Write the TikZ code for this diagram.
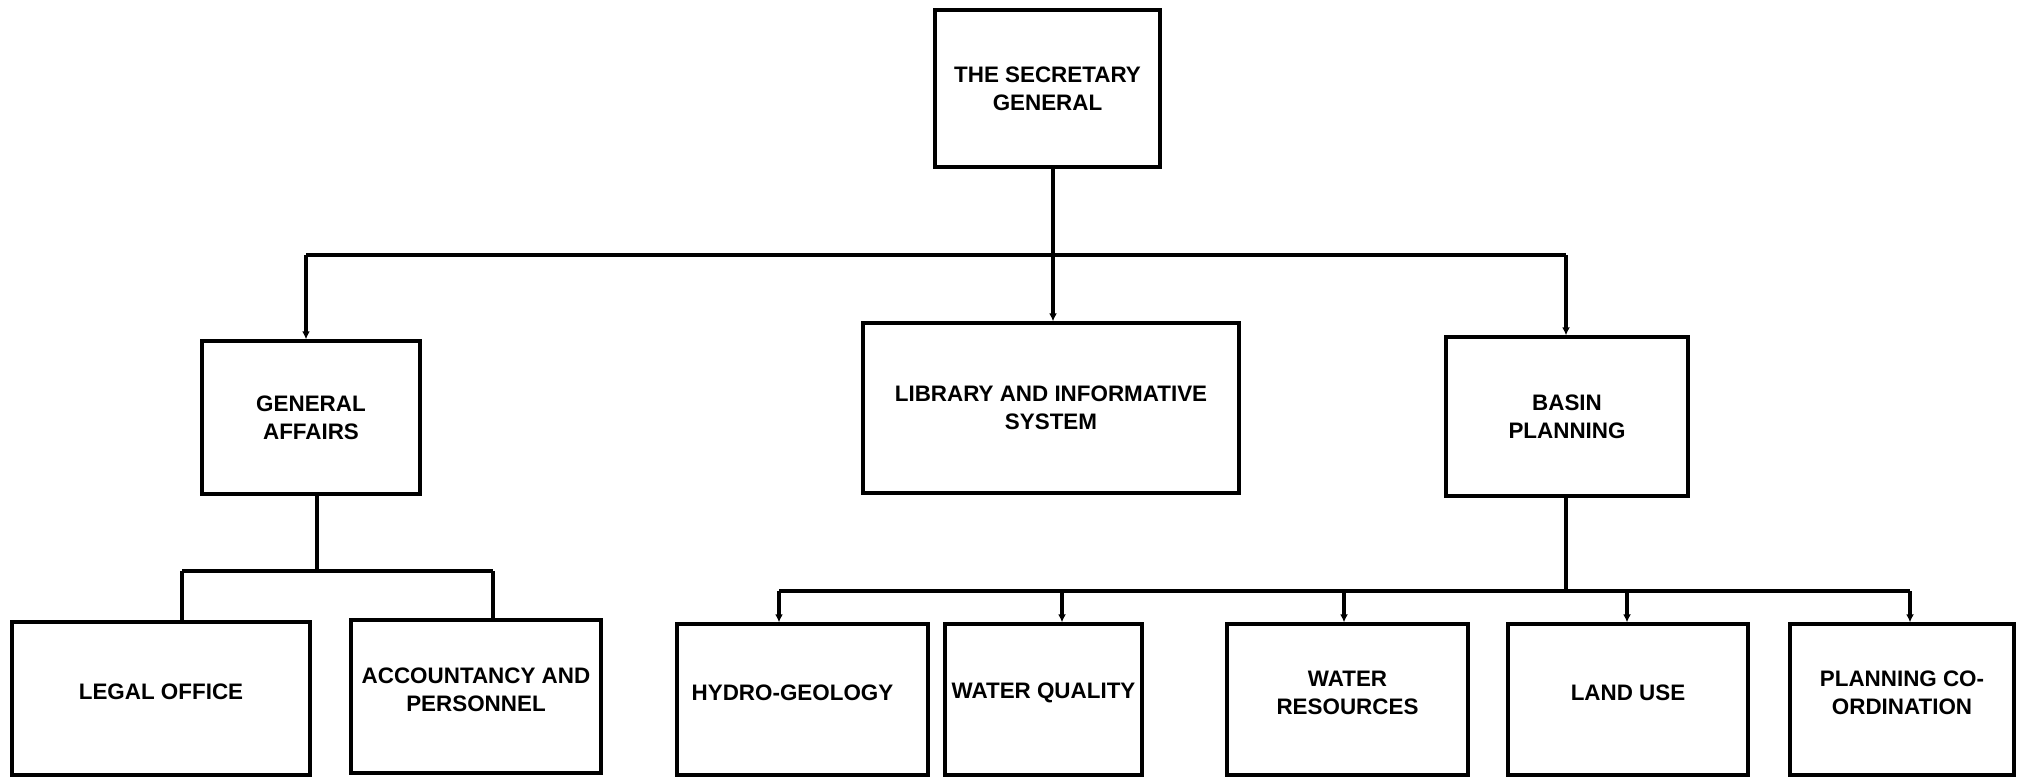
\documentclass[tikz,border=0pt]{standalone}
\usepackage{fontspec}
\setmainfont{Liberation Sans}
\usetikzlibrary{arrows.meta}
\begin{document}
\begin{tikzpicture}[x=0.5pt,y=-0.5pt,
  lbl/.style={inner sep=0pt,align=center,font=\fontsize{11.2}{14}\selectfont\bfseries},
  box/.style={lbl,draw=black,line width=1.7pt,rectangle},
  conn/.style={draw=black,line width=1.7pt},
  arr/.style={conn,-{Latex[length=4pt,width=4pt]}}]
\useasboundingbox (0,0) rectangle (2019,777);
\fill[white] (0,0) rectangle (2019,777);
% upper boxes
\node[box,minimum width=112.5pt,minimum height=78.5pt] (sec) at (1047.5,88.5) {THE SECRETARY\\GENERAL};
\node[box,minimum width=109pt,minimum height=76.5pt] (ga) at (311,417.5) {GENERAL\\AFFAIRS};
\node[box,minimum width=188pt,minimum height=85pt] (lib) at (1051,408) {LIBRARY AND INFORMATIVE\\SYSTEM};
\node[box,minimum width=121pt,minimum height=79.5pt] (basin) at (1567,416.5) {BASIN\\PLANNING};
% lower boxes (text set slightly above centre, as in the reference)
\node[box,minimum width=149pt,minimum height=76.5pt] (legal) at (161,698.5) {};
\node[box,minimum width=125pt,minimum height=76.5pt] (acc) at (476,696.5) {};
\node[box,minimum width=125.5pt,minimum height=75.5pt] (hydro) at (802.5,699.5) {};
\node[box,minimum width=98.5pt,minimum height=75.5pt] (wq) at (1043.5,699.5) {};
\node[box,minimum width=120.5pt,minimum height=75.5pt] (wr) at (1347.5,699.5) {};
\node[box,minimum width=120pt,minimum height=75.5pt] (land) at (1628,699.5) {};
\node[box,minimum width=112pt,minimum height=75.5pt] (plan) at (1902,699.5) {};
\node[lbl] (legal-t) at ([yshift=3.5pt]legal.center) {LEGAL OFFICE};
\node[lbl] (acc-t) at ([yshift=3.5pt]acc.center) {ACCOUNTANCY AND\\PERSONNEL};
\node[lbl] (hydro-t) at ([xshift=-5pt,yshift=3.5pt]hydro.center) {HYDRO-GEOLOGY};
\node[lbl] (wq-t) at ([yshift=3.5pt]wq.center) {WATER QUALITY};
\node[lbl] (wr-t) at ([yshift=3.5pt]wr.center) {WATER\\RESOURCES};
\node[lbl] (land-t) at ([yshift=3.5pt]land.center) {LAND USE};
\node[lbl] (plan-t) at ([yshift=3.5pt]plan.center) {PLANNING CO-\\ORDINATION};
% top level connectors
\coordinate (t) at (1053,255);
\coordinate (b1) at (306,255);
\coordinate (b3) at (1566,255);
\draw[conn] (b1) -- (b3);
\draw[arr] (sec.south -| t) -- (t |- lib.north);
\draw[arr] (b1) -- (b1 |- ga.north);
\draw[arr] (b3) -- (b3 |- basin.north);
% general affairs subtree
\coordinate (g) at (317,571);
\coordinate (g1) at (182,571);
\coordinate (g2) at (493,571);
\draw[conn] (ga.south -| g) -- (g);
\draw[conn] (g1) -- (g2);
\draw[conn] (g1) -- (g1 |- legal.north);
\draw[conn] (g2) -- (g2 |- acc.north);
% basin subtree
\coordinate (p) at (1566,591);
\coordinate (p1) at (779,591);
\coordinate (p2) at (1062,591);
\coordinate (p3) at (1344,591);
\coordinate (p4) at (1627,591);
\coordinate (p5) at (1910,591);
\draw[conn] (basin.south -| p) -- (p);
\draw[conn] (p1) -- (p5);
\draw[arr] (p1) -- (p1 |- hydro.north);
\draw[arr] (p2) -- (p2 |- wq.north);
\draw[arr] (p3) -- (p3 |- wr.north);
\draw[arr] (p4) -- (p4 |- land.north);
\draw[arr] (p5) -- (p5 |- plan.north);
\end{tikzpicture}
\end{document}
